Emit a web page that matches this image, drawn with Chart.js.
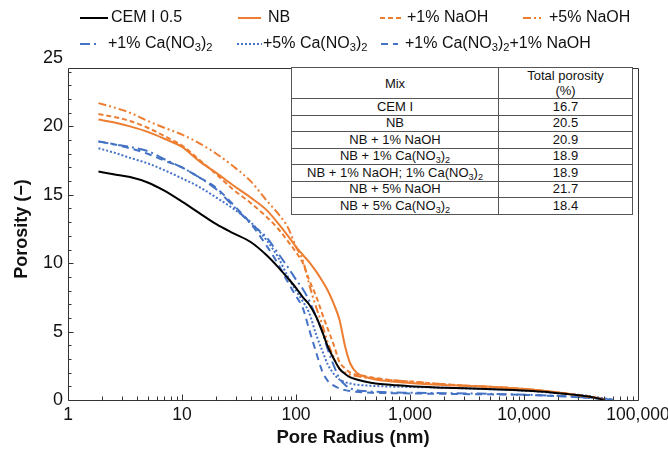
<!DOCTYPE html>
<html>
<head>
<meta charset="utf-8">
<script src="https://cdn.jsdelivr.net/npm/chart.js@4.4.1/dist/chart.umd.min.js"></script>
<style>
  body { margin: 0; background: #fff; font-family: "Liberation Sans", Arial, sans-serif; }
  #wrap { position: relative; width: 668px; height: 450px; overflow: hidden; }
  #wrap canvas { position: absolute; left: 0; top: 0; }
  .leg { position: absolute; font-size: 16px; line-height: 18px; color: #111; white-space: nowrap; }
  .legline { position: absolute; }
  sub { font-size: 70%; line-height: 0; vertical-align: -3px; }
  #mixTable { position: absolute; left: 291px; top: 67px; width: 342px; border-collapse: collapse;
              font-size: 13px; color: #111; background: #fff; }
  #mixTable td, #mixTable th { border: 1px solid #555; padding: 0; text-align: center; font-weight: normal;
              line-height: 14px; height: 15.5px; }
  #mixTable th { height: 28px; line-height: 15px; }
</style>
</head>
<body>
<div id="wrap">
  <canvas id="myChart" width="668" height="450"></canvas>
</div>
<script>
// radio de poro (nm), eje compartido por todas las curvas
const radius = [1.85, 2.5, 3.5, 5, 7, 10, 14, 20, 28, 40, 55, 70, 85, 100, 115, 130, 150, 170, 190, 215,
                240, 270, 300, 340, 400, 500, 700, 1000, 2000, 4000, 7000, 12000, 20000, 30000, 40000, 50000, 60000];

// porosidad acumulada (-) de cada mezcla
const cemI = [16.7, 16.5, 16.3, 15.9, 15.3, 14.5, 13.7, 12.85, 12.2, 11.55, 10.6, 9.7, 8.9, 8.2, 7.5, 7.0, 6.1, 5.0, 3.9, 3.0,
              2.3, 1.9, 1.65, 1.5, 1.35, 1.2, 1.1, 1.0, 0.9, 0.82, 0.75, 0.65, 0.5, 0.35, 0.2, 0.02, null];
const nb = [20.5, 20.3, 20.0, 19.6, 19.1, 18.5, 17.5, 16.6, 15.7, 14.8, 13.9, 12.9, 12.0, 11.2, 10.6, 10.1, 9.4, 8.7, 8.0, 7.0,
            5.9, 3.9, 2.65, 2.0, 1.7, 1.5, 1.35, 1.25, 1.1, 1.0, 0.9, 0.75, 0.55, 0.35, 0.2, 0.05, null];
const naoh1 = [20.9, 20.7, 20.4, 19.9, 19.3, 18.6, 17.6, 16.5, 15.4, 14.4, 13.4, 12.5, 11.6, 10.8, 10.0, 8.8, 7.6, 6.3, 5.2, 4.0,
               2.8, 2.3, 2.0, 1.85, 1.75, 1.6, 1.45, 1.35, 1.15, 1.0, 0.9, 0.75, 0.55, 0.35, 0.2, 0.05, null];
const naoh5 = [21.7, 21.4, 21.0, 20.4, 19.9, 19.4, 18.8, 18.0, 17.1, 16.0, 14.6, 13.6, 12.6, 11.2, 10.2, 8.5, 6.8, 5.5, 4.2, 3.1,
               2.3, 2.0, 1.85, 1.75, 1.65, 1.55, 1.45, 1.35, 1.15, 1.0, 0.9, 0.75, 0.55, 0.35, 0.2, 0.05, null];
const ca1 = [18.9, 18.7, 18.5, 18.2, 17.6, 17.0, 16.3, 15.4, 14.2, 12.9, 11.9, 10.7, 9.7, 8.8, 8.1, 7.3, 6.1, 5.0, 3.7, 2.5,
             1.6, 1.1, 0.85, 0.72, 0.65, 0.6, 0.55, 0.53, 0.5, 0.47, 0.42, 0.37, 0.3, 0.22, 0.15, 0.08, 0.02];
const ca5 = [18.4, 18.1, 17.7, 17.3, 16.8, 16.2, 15.6, 14.8, 14.0, 13.0, 11.7, 10.4, 9.0, 8.0, 7.2, 6.4, 4.8, 3.6, 2.6, 1.9,
             1.5, 1.3, 1.2, 1.12, 1.07, 1.02, 0.98, 0.95, 0.9, 0.82, 0.75, 0.65, 0.5, 0.38, 0.25, 0.12, 0.02];
const ca1naoh1 = [18.9, 18.7, 18.4, 18.0, 17.5, 17.0, 16.3, 15.5, 14.3, 12.9, 11.3, 9.9, 8.6, 7.6, 6.7, 5.2, 3.5, 2.1, 1.4, 1.05,
                  0.85, 0.72, 0.65, 0.6, 0.56, 0.52, 0.5, 0.48, 0.45, 0.42, 0.4, 0.35, 0.28, 0.2, 0.13, 0.07, 0.02];

// nombres de series (con subíndices para la leyenda)
const seriesNames = ['CEM I 0.5', 'NB', '+1% NaOH', '+5% NaOH',
                     '+1% Ca(NO<sub>3</sub>)<sub>2</sub>', '+5% Ca(NO<sub>3</sub>)<sub>2</sub>',
                     '+1% Ca(NO<sub>3</sub>)<sub>2</sub>+1% NaOH'];
const seriesData = [cemI, nb, naoh1, naoh5, ca1, ca5, ca1naoh1];

// ticks de los ejes
const xTicks = [1, 10, 100, 1000, 10000, 100000];
const yTicks = [0, 5, 10, 15, 20, 25];

// tabla de porosidad total
const tableMix = ['CEM I', 'NB', 'NB + 1% NaOH', 'NB + 1% Ca(NO<sub>3</sub>)<sub>2</sub>',
                  'NB + 1% NaOH; 1% Ca(NO<sub>3</sub>)<sub>2</sub>', 'NB + 5% NaOH', 'NB + 5% Ca(NO<sub>3</sub>)<sub>2</sub>'];
const tablePorosity = ['16.7', '20.5', '20.9', '18.9', '18.9', '21.7', '18.4'];

const black = '#000000', orange = '#ED7D31', blue = '#4472C4';
const styles = [
    { color: black,  dash: [] },
    { color: orange, dash: [] },
    { color: orange, dash: [5, 3] },
    { color: orange, dash: [8, 3, 2, 3, 2, 3] },
    { color: blue,   dash: [10, 4, 2, 4] },
    { color: blue,   dash: [2, 2] },
    { color: blue,   dash: [7, 5] }
];
// posición de cada entrada de la leyenda: [x línea inicio, x línea fin, x texto, y centro]
const legendPos = [[80, 108, 111, 18], [238, 261, 268, 18], [380, 403, 407, 18], [523, 543, 549, 18],
                   [80, 100, 108, 44], [237, 262, 263, 44], [381, 398, 405, 44]];

const frameTop = 24.3;

// leyenda en HTML para poder usar subíndices
const wrap = document.getElementById('wrap');
seriesNames.forEach((name, i) => {
    const [x0, x1, tx, cy] = legendPos[i];
    const st = styles[i];
    const svg = document.createElementNS('http://www.w3.org/2000/svg', 'svg');
    svg.setAttribute('class', 'legline');
    svg.setAttribute('width', x1 - x0);
    svg.setAttribute('height', 4);
    svg.style.left = x0 + 'px';
    svg.style.top = (cy - 2) + 'px';
    const ln = document.createElementNS('http://www.w3.org/2000/svg', 'line');
    ln.setAttribute('x1', 0); ln.setAttribute('x2', x1 - x0);
    ln.setAttribute('y1', 2); ln.setAttribute('y2', 2);
    ln.setAttribute('stroke', st.color);
    ln.setAttribute('stroke-width', 2);
    if (st.dash.length) ln.setAttribute('stroke-dasharray', st.dash.join(' '));
    svg.appendChild(ln);
    wrap.appendChild(svg);
    const span = document.createElement('div');
    span.className = 'leg';
    span.innerHTML = name;
    span.style.left = tx + 'px';
    span.style.top = (cy - 10) + 'px';
    wrap.appendChild(span);
});

// tabla
let html = '<tr><th>Mix</th><th>Total porosity<br>(%)</th></tr>';
tableMix.forEach((m, i) => {
    html += '<tr><td style="width:206px">' + m + '</td><td>' + tablePorosity[i] + '</td></tr>';
});
const tbl = document.createElement('table');
tbl.id = 'mixTable';
tbl.innerHTML = html;
wrap.appendChild(tbl);

// marco y marcas de los ejes hacia dentro
const frameTicks = {
    id: 'frameTicks',
    afterDraw(chart) {
        const { ctx, chartArea: a, scales: { x, y } } = chart;
        const top = Math.round(y.getPixelForValue(frameTop)) + 0.5;
        const bot = Math.round(y.getPixelForValue(0)) + 0.5;
        const left = Math.round(a.left) + 0.5, right = Math.round(a.right) + 0.5;
        ctx.save();
        ctx.strokeStyle = '#333';
        ctx.lineWidth = 1;
        ctx.beginPath();
        ctx.rect(left, top, right - left, bot - top);
        for (let d = 1; d < 100000; d *= 10) {
            for (let m = 2; m < 10; m++) {
                const px = Math.round(x.getPixelForValue(d * m)) + 0.5;
                ctx.moveTo(px, bot);
                ctx.lineTo(px, bot - 4);
            }
            const pm = Math.round(x.getPixelForValue(d)) + 0.5;
            ctx.moveTo(pm, bot);
            ctx.lineTo(pm, bot - 6);
        }
        for (let v = 1; v < frameTop; v++) {
            const py = Math.round(y.getPixelForValue(v)) + 0.5;
            ctx.moveTo(left, py);
            ctx.lineTo(left + (v % 5 === 0 ? 5 : 3), py);
        }
        ctx.stroke();
        ctx.restore();
    }
};

Chart.defaults.font.family = '"Liberation Sans", Arial, sans-serif';
Chart.defaults.color = '#111';

const ctx = document.getElementById('myChart').getContext('2d');
const myChart = new Chart(ctx, {
    type: 'line',
    data: {
        labels: radius,
        datasets: seriesData.map((d, i) => ({
            label: seriesNames[i].replace(/<sub>3<\/sub>/g, '₃').replace(/<sub>2<\/sub>/g, '₂'),
            data: d,
            borderColor: styles[i].color,
            borderDash: styles[i].dash,
            borderWidth: 2,
            pointRadius: 0,
            fill: false,
            cubicInterpolationMode: 'monotone'
        }))
    },
    options: {
        responsive: false,
        animation: false,
        layout: { padding: { top: 58, right: 30, bottom: 0, left: 0 } },
        plugins: { legend: { display: false }, tooltip: { enabled: false } },
        scales: {
            x: {
                type: 'logarithmic',
                min: 1,
                max: 100000,
                grid: { display: false, drawTicks: false },
                border: { display: false },
                afterBuildTicks: s => { s.ticks = xTicks.map(v => ({ value: v })); },
                afterFit: s => { s.height = 50; s.paddingLeft = 0; s.paddingRight = 0; },
                ticks: {
                    font: { size: 17.5 },
                    color: '#111',
                    padding: 5,
                    maxRotation: 0,
                    autoSkip: false,
                    callback: v => Number(v).toLocaleString('en-US')
                },
                title: {
                    display: true,
                    text: 'Pore Radius (nm)',
                    font: { size: 18.5, weight: 'bold' },
                    color: '#111',
                    padding: { top: 0, bottom: 1 }
                }
            },
            y: {
                min: 0,
                max: 25,
                grid: { display: false, drawTicks: false },
                border: { display: false },
                afterBuildTicks: s => { s.ticks = yTicks.map(v => ({ value: v })); },
                afterFit: s => { s.width = 68; },
                ticks: { font: { size: 18 }, color: '#111', padding: 5 },
                title: {
                    display: true,
                    text: 'Porosity (−)',
                    font: { size: 18, weight: 'bold' },
                    color: '#111',
                    padding: { top: 11, bottom: 0 }
                }
            }
        }
    },
    plugins: [frameTicks]
});
</script>
</body>
</html>
